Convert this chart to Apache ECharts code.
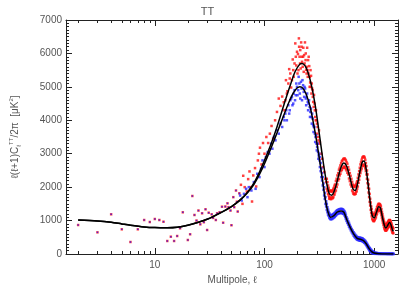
<!DOCTYPE html>
<html>
<head>
<meta charset="utf-8">
<script src="https://cdn.jsdelivr.net/npm/echarts@6/dist/echarts.min.js"></script>
<style>
html,body{margin:0;padding:0;background:#fff;}
#chart{width:415px;height:297px;}
</style>
</head>
<body>
<div id="chart"></div>
<script>
// ---- data ----
var xTickMajor = [10, 100, 1000];
var xTickMinor = [2,3,4,5,6,7,8,9,20,30,40,50,60,70,80,90,200,300,400,500,600,700,800,900];

// theory curve (upper, black)
var theoryEll = [2,3,4,5,6,8,10,13,16,20,25,30,40,50,60,70,80,90,100,115,130,150,170,190,210,220,235,250,270,290,310,330,350,370,390,410,440,470,500,530,560,600,640,670,700,740,780,810,840,880,920,960,1000,1050,1100,1140,1190,1240,1280,1330,1380,1420,1470,1500];
var theoryVal = [1020,990,950,900,860,810,790,785,800,860,950,1040,1240,1420,1620,1850,2120,2450,2800,3300,3800,4450,5000,5450,5680,5700,5630,5420,5000,4450,3800,3150,2560,2100,1800,1760,1950,2300,2600,2720,2630,2300,1950,1900,2050,2450,2750,2780,2600,2100,1550,1150,1080,1250,1410,1380,1100,850,780,860,940,880,720,680];

// second curve (lower, black)
var lowerEll = [2,3,4,5,6,8,10,13,16,20,25,30,40,50,60,70,80,90,100,115,130,150,170,190,210,225,240,260,280,300,320,340,360,380,400,430,460,500,530,560,600,650,700,750,800,850,900,950,1000,1100,1200,1300,1500];
var lowerVal = [1020,990,950,900,860,810,790,785,800,860,950,1040,1240,1420,1610,1830,2080,2380,2700,3180,3620,4150,4600,4900,5000,4950,4780,4420,3900,3350,2750,2150,1600,1250,1100,1150,1250,1290,1250,1050,820,600,470,440,400,300,160,70,30,8,3,2,2];

// measured points at low multipoles (both maps agree)
var sharedEll = [2,3,4,5,6,7,8,9,10,11,12,13,14,15,16,17,18,20,21,22,23,24,25,26,27,28,29,30,31,33,34,36,37,39,41,42,44,46,47,49,50,52,53,55,56,57,59];
var sharedVal = [867,648,1187,738,359,738,1017,957,1047,1017,966,389,518,389,538,768,1247,419,589,1735,1167,1000,1300,888,1217,950,1337,718,1235,1187,1080,1017,1217,1250,1415,937,1420,1516,1400,1300,860,1700,1400,1900,1565,1270,1815];

// red points
var redEll = [61,63,64,66,69,71,73,75,77,79,82,84,87,89,91,94,97,100,104,108,112,116,120,125,130,135,140,145,150,155,157,162,165,168,172,175,178,181,185,188,191,195,198,202,204,206,209,212,214,216,218,220,223,226,228,230,234,237,240,243,245,248,250,253,256,258,261,263,266,268,272,275,278,283,286,290,295,298,301,305,309,314,320,330,336,342,351,358,365,
152,160,170,183,193,200,207,211,219,225,232,238,242,247,252,259,264,270,276,281,288,293,303,311,317,
370,370,380,380,390,390,390,400,400,410,410,420,420,430,430,440,440,455,455,470,470,485,485,500,500,515,515,530,530,545,545,560,560,580,580,600,600,620,620,640,640,655,655,670,670,685,685,700,700,720,720,740,740,760,760,780,780,800,800,820,820,840,840,860,860,880,880,900,900,920,920,940,940,960,960,980,980,1000,1000,1025,1025,1050,1050,1075,1075,1100,1100,1120,1120,1140,1140,1165,1165,1190,1190,1215,1215,1240,1240,1260,1260,1280,1280,1305,1305,1330,1330,1355,1355,1380,1380,1400,1400,1420,1420,1445,1445,1470,1470,1495,1495,
375,375,385,385,395,395,405,405,415,415,425,425,435,435,448,448,462,462,478,478,492,492,508,508,522,522,538,538,552,552,570,570,590,590,610,610,630,630,648,648,662,662,678,678,692,692,710,710,730,730,750,750,770,770,790,790,810,810,830,830,850,850,870,870,890,890,910,910,930,930,950,950,970,970,990,990,1012,1012,1038,1038,1062,1062,1088,1088,1110,1110,1130,1130,1152,1152,1178,1178,1202,1202,1228,1228,1250,1250,1270,1270,1292,1292,1318,1318,1342,1342,1368,1368,1390,1390,1410,1410,1432,1432,1458,1458,1482,1482];
var redVal = [2070,1500,2340,2000,1870,2240,2470,2000,1570,2350,2570,2020,2800,3000,3180,2680,3320,3000,3500,3320,3600,3830,3450,4000,4250,4650,4430,4710,4540,4600,5200,4870,5100,5530,5400,4980,5200,5820,5300,5700,6300,5640,6050,5980,5500,6450,5900,6100,5550,6330,6200,5750,5600,6170,5450,5950,6330,5800,5510,5600,6170,5300,5800,5900,5620,5000,5130,5500,5330,4800,4950,4900,4550,4760,4500,4100,4300,4000,3900,3800,3500,3700,3350,3000,2850,2600,2450,2250,2150,
4300,4800,5250,5500,5900,5400,6200,5700,5900,5900,5700,6000,5400,5500,5400,5300,5000,5100,4700,4400,4300,4000,3600,3400,3300,
2250,1950,2050,1800,1900,1700,1650,1880,1650,1700,1860,1900,1680,1780,1980,2080,1850,2000,2250,2420,2200,2350,2580,2720,2480,2800,2570,2850,2620,2600,2830,2750,2500,2380,2600,2420,2180,2020,2250,2080,1850,1800,2000,2020,1800,1860,2080,2180,1950,2130,2380,2580,2330,2500,2750,2880,2650,2920,2680,2620,2880,2720,2480,2250,2500,2220,1980,1700,1950,1650,1450,1220,1420,1250,1060,1000,1180,1170,990,1060,1240,1340,1170,1440,1270,1330,1500,1490,1320,1290,1460,1340,1160,1010,1190,1050,880,770,940,880,720,700,860,900,730,780,950,990,830,860,1020,1000,840,800,960,880,720,640,800,760,620,
2150,1880,1750,1980,1900,1680,1640,1880,1900,1660,1700,1950,2040,1780,1900,2180,2350,2080,2250,2520,2650,2400,2520,2780,2840,2580,2580,2860,2800,2540,2430,2700,2520,2260,2080,2340,2160,1900,1800,2050,2020,1780,1800,2050,2130,1880,2020,2280,2480,2220,2420,2680,2820,2560,2640,2900,2910,2650,2560,2820,2630,2380,2120,2380,2080,1840,1560,1800,1540,1320,1130,1340,1200,1020,980,1170,1200,1020,1100,1300,1400,1210,1300,1480,1500,1320,1300,1480,1420,1230,1080,1260,1120,940,820,990,900,740,700,870,870,710,750,920,970,800,840,1010,1010,850,820,980,920,760,680,840,780,630];

// blue points
var blueEll = [60,62,65,68,70,72,76,80,83,86,90,93,96,100,103,107,111,115,118,122,126,130,135,140,145,150,155,160,165,170,175,180,185,190,195,200,205,210,215,220,225,230,235,240,245,250,255,260,265,270,275,280,285,290,295,300,305,310,315,
152,158,168,172,178,183,188,193,198,203,208,212,218,222,228,232,238,242,248,252,258,262,268,272,278,282,288,292,298,302,308,312,318,
320,320,330,330,340,340,350,350,360,360,370,370,380,380,390,390,400,400,415,415,430,430,445,445,460,460,480,480,500,500,515,515,530,530,545,545,560,560,580,580,600,600,625,625,650,650,675,675,700,700,725,725,750,750,775,775,800,800,825,825,850,850,875,875,900,900,925,925,950,950,975,975,1000,1000,1050,1050,1100,1100,1150,1150,1200,1200,1250,1250,1300,1300,1350,1350,1400,1400,1450,1450,1500,1500,
325,325,335,335,345,345,355,355,365,365,375,375,385,385,395,395,407,407,422,422,437,437,452,452,470,470,490,490,508,508,522,522,538,538,552,552,570,570,590,590,612,612,638,638,662,662,688,688,712,712,738,738,762,762,788,788,812,812,838,838,862,862,888,888,912,912,938,938,962,962,988,988,1025,1025,1075,1075,1125,1125,1175,1175,1225,1225,1275,1275,1325,1325,1375,1375,1425,1425,1475,1475];
var blueVal = [1750,1600,1800,1950,1700,2000,1900,2150,1950,2400,2300,2550,2800,2600,2900,3050,3000,3300,3150,3500,3400,3700,3600,3900,3800,4100,4200,4000,4450,4300,4650,4450,4800,4600,5100,4750,5300,4800,5150,4600,5050,4700,4950,4450,4800,4300,4600,4100,4350,3900,4050,3650,3800,3350,3550,3100,3300,2850,3000,
4000,4300,4200,4600,4700,4500,4900,4750,5000,4900,5100,4650,4950,5200,4850,5000,4650,4700,4550,4500,4400,4250,4100,4200,3850,3800,3600,3500,3300,3200,3050,2950,2800,
2600,2900,2300,2560,2050,2300,1750,2000,1500,1700,1320,1500,1180,1330,1090,1220,1040,1160,1170,1050,1090,1210,1260,1140,1190,1310,1340,1220,1230,1350,1340,1220,1190,1300,1230,1110,990,1100,980,880,770,870,750,650,550,650,570,480,430,510,490,410,400,480,470,390,360,440,400,320,260,340,270,190,120,200,150,70,40,100,70,20,10,50,35,8,20,5,15,3,10,3,8,2,6,2,5,2,5,2,4,2,4,2,
2480,2720,2200,2420,1920,2110,1650,1830,1420,1580,1250,1400,1140,1260,1060,1180,1160,1040,1070,1190,1230,1110,1165,1285,1325,1205,1225,1345,1345,1225,1205,1325,1270,1150,1050,1170,1050,930,820,930,810,710,600,700,610,510,450,540,500,420,400,490,480,395,370,460,420,340,290,370,305,225,155,235,175,95,55,125,85,25,15,60,40,5,25,3,18,2,12,2,10,2,8,2,6,2,6,2,5,2,5,2];

var chart = echarts.init(document.getElementById('chart'), null, {renderer: 'canvas'});

function pairs(xs, ys) { return xs.map(function (x, i) { return [x, ys[i]]; }); }

var xMin = 1.55, xMax = 1650;
var axisCol = '#222';
var textCol = '#555';
var font = 'Liberation Sans';

function xAxisDef(pos, vals, len, showLabel, showLine) {
  return {
    type: 'log', position: pos, min: xMin, max: xMax, logBase: 10,
    axisLine: {show: showLine, onZero: false, lineStyle: {color: axisCol, width: 1}},
    axisTick: {show: true, inside: true, length: len, customValues: vals, lineStyle: {color: axisCol, width: 1}},
    axisLabel: {show: showLabel, customValues: xTickMajor, color: textCol, fontFamily: font, fontSize: 10, margin: 6,
      formatter: function (v) { return String(Math.round(v)); }},
    splitLine: {show: false},
    name: showLabel ? 'Multipole, ℓ' : '',
    nameLocation: 'middle', nameGap: 20,
    nameTextStyle: {color: textCol, fontFamily: font, fontSize: 10}
  };
}

function yAxisDef(pos, showLabel) {
  return {
    type: 'value', position: pos, min: 0, max: 7000, interval: 1000,
    axisLine: {show: true, onZero: false, lineStyle: {color: axisCol, width: 1}},
    axisTick: {show: true, inside: true, length: 6, lineStyle: {color: axisCol, width: 1}},
    minorTick: {show: true, splitNumber: 10, length: 3, lineStyle: {color: axisCol, width: 1}},
    axisLabel: {show: showLabel, color: textCol, fontFamily: font, fontSize: 10, margin: 4,
      formatter: function (v) { return String(v); }},
    splitLine: {show: false},
    name: showLabel ? '{t|ℓ(ℓ+1)C}{sub|ℓ}{sup|TT}{t|/2π  [μK}{sup|2}{t|]}' : '',
    nameLocation: 'middle', nameGap: 44, nameRotate: 90,
    nameTextStyle: {color: textCol, fontFamily: font, fontSize: 10,
      rich: {
        t: {fontSize: 10, color: textCol, fontFamily: font, lineHeight: 14},
        sub: {fontSize: 6, color: textCol, fontFamily: font, verticalAlign: 'bottom', lineHeight: 14},
        sup: {fontSize: 6, color: textCol, fontFamily: font, verticalAlign: 'top', lineHeight: 14}
      }}
  };
}

var option = {
  backgroundColor: '#fff',
  animation: false,
  title: {text: 'TT', left: 'center', top: 1,
    textStyle: {color: textCol, fontFamily: font, fontSize: 11, fontWeight: 'normal'}},
  grid: {left: 62, right: 17, top: 20, bottom: 43, show: false},
  xAxis: [
    xAxisDef('bottom', xTickMajor, 6, true, true),
    xAxisDef('bottom', xTickMinor, 3, false, false),
    xAxisDef('top', xTickMajor, 6, false, true),
    xAxisDef('top', xTickMinor, 3, false, false)
  ],
  yAxis: [yAxisDef('left', true), yAxisDef('right', false)],
  series: [
    {type: 'scatter', name: 'red', data: pairs(redEll, redVal), symbol: 'rect', symbolSize: 2.5,
      itemStyle: {color: '#ff1010'}, xAxisIndex: 0, yAxisIndex: 0},
    {type: 'scatter', name: 'shared-red', data: pairs(sharedEll, sharedVal), symbol: 'rect', symbolSize: 2.5,
      itemStyle: {color: '#ff2020'}, xAxisIndex: 0, yAxisIndex: 0},
    {type: 'scatter', name: 'blue', data: pairs(blueEll, blueVal), symbol: 'rect', symbolSize: 2.5,
      itemStyle: {color: '#2828ff'}, xAxisIndex: 0, yAxisIndex: 0},
    {type: 'scatter', name: 'shared-blue', data: pairs(sharedEll, sharedVal), symbol: 'rect', symbolSize: 1.5,
      itemStyle: {color: '#3010e8'}, xAxisIndex: 0, yAxisIndex: 0},
    {type: 'line', name: 'upper', data: pairs(theoryEll, theoryVal), showSymbol: false, smooth: 0.3,
      lineStyle: {color: '#000', width: 1.5}, xAxisIndex: 0, yAxisIndex: 0, z: 5},
    {type: 'line', name: 'lower', data: pairs(lowerEll, lowerVal), showSymbol: false, smooth: 0.3,
      lineStyle: {color: '#000', width: 1.5}, xAxisIndex: 0, yAxisIndex: 0, z: 5}
  ]
};
chart.setOption(option);
</script>
</body>
</html>
